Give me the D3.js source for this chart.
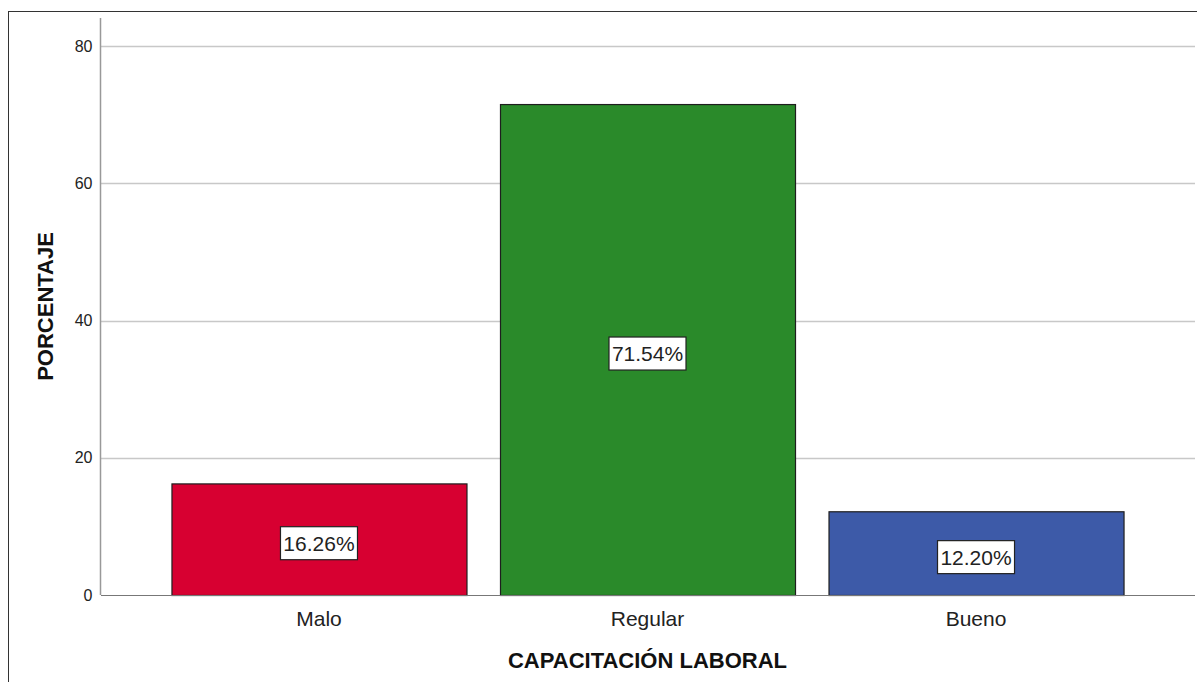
<!DOCTYPE html>
<html>
<head>
<meta charset="utf-8">
<script src="https://cdn.jsdelivr.net/npm/d3@7"></script>
<style>
  html, body { margin: 0; padding: 0; background: #fff; }
  svg { display: block; font-family: "Liberation Sans", Arial, sans-serif; }
</style>
</head>
<body>
<svg id="chart" width="1197" height="682"></svg>
<script>
// Capacitación laboral: percentage by level
const categories = ["Malo", "Regular", "Bueno"];
const percentages = [16.26, 71.54, 12.20];
const barColors = ["#d70031", "#2a8a2a", "#3d5aa8"];
const yTicks = [0, 20, 40, 60, 80];

const svg = d3.select("#chart");
const W = 1197, H = 682;
const plot = { left: 101, right: 1195, top: 18, bottom: 595 };

// outer frame
svg.append("rect")
  .attr("x", 8.5).attr("y", 11.5)
  .attr("width", W + 20).attr("height", H + 20)
  .attr("fill", "#fff").attr("stroke", "#333").attr("stroke-width", 1);

const y = d3.scaleLinear().domain([0, 80]).range([plot.bottom, 46]);
const x = d3.scaleBand().domain(categories)
  .range([plot.left, plot.right - 1])
  .paddingInner(0.102).paddingOuter(0.2145);

// gridlines
svg.append("g").selectAll("line")
  .data(yTicks.filter(t => t > 0))
  .join("line")
  .attr("x1", plot.left).attr("x2", plot.right)
  .attr("y1", d => Math.round(y(d)) + 0.5).attr("y2", d => Math.round(y(d)) + 0.5)
  .attr("stroke", "#c8c8c8").attr("stroke-width", 1.5);

// y axis
const yAxis = svg.append("g")
  .attr("transform", `translate(${plot.left - 0.5},0)`)
  .call(d3.axisLeft(y).tickValues(yTicks).tickSize(0).tickPadding(8));
yAxis.select(".domain").remove();
yAxis.selectAll("text").attr("font-size", 16).attr("fill", "#222")
  .attr("font-family", "'Liberation Sans', Arial, sans-serif");
svg.append("line")
  .attr("x1", plot.left - 0.5).attr("x2", plot.left - 0.5)
  .attr("y1", plot.top).attr("y2", plot.bottom)
  .attr("stroke", "#999").attr("stroke-width", 1.5);

// bars
svg.append("g").selectAll("rect")
  .data(categories)
  .join("rect")
  .attr("x", d => x(d) + 0.5)
  .attr("y", (d, i) => y(percentages[i]) + 0.5)
  .attr("width", x.bandwidth())
  .attr("height", (d, i) => y(0) - y(percentages[i]))
  .attr("fill", (d, i) => barColors[i])
  .attr("stroke", "#1e1e1e").attr("stroke-width", 1.2);

// x axis baseline
svg.append("line")
  .attr("x1", plot.left).attr("x2", plot.right)
  .attr("y1", plot.bottom + 0.5).attr("y2", plot.bottom + 0.5)
  .attr("stroke", "#777").attr("stroke-width", 1.2);

// category labels
const xAxis = svg.append("g")
  .attr("transform", `translate(0,${plot.bottom})`)
  .call(d3.axisBottom(x).tickSize(0).tickPadding(16));
xAxis.select(".domain").remove();
xAxis.selectAll("text").attr("font-size", 21).attr("fill", "#222")
  .attr("font-family", "'Liberation Sans', Arial, sans-serif");

// value labels in boxes
const labels = svg.append("g").selectAll("g")
  .data(categories)
  .join("g")
  .attr("transform", (d, i) => {
    const cx = x(d) + x.bandwidth() / 2;
    const cy = (y(percentages[i]) + y(0)) / 2 + 4;
    return `translate(${cx},${cy})`;
  });
labels.each(function (d, i) {
  const g = d3.select(this);
  const t = g.append("text")
    .attr("text-anchor", "middle").attr("dy", "0.36em")
    .attr("font-size", 21).attr("fill", "#222")
    .text(percentages[i].toFixed(2) + "%");
  const bb = t.node().getBBox();
  g.insert("rect", "text")
    .attr("x", Math.round(bb.x - 3) + 0.5).attr("y", -16.5)
    .attr("width", Math.round(bb.width + 6)).attr("height", 33)
    .attr("fill", "#fff").attr("stroke", "#222").attr("stroke-width", 1.2);
});

// axis titles
svg.append("text")
  .attr("x", (x("Regular") + x.bandwidth() / 2)).attr("y", 668)
  .attr("text-anchor", "middle")
  .attr("font-size", 22).attr("font-weight", "bold").attr("fill", "#111")
  .text("CAPACITACIÓN LABORAL");

svg.append("text")
  .attr("transform", `translate(53,${(plot.top + plot.bottom) / 2}) rotate(-90)`)
  .attr("text-anchor", "middle")
  .attr("font-size", 22).attr("font-weight", "bold").attr("fill", "#111")
  .text("PORCENTAJE");
</script>
</body>
</html>
